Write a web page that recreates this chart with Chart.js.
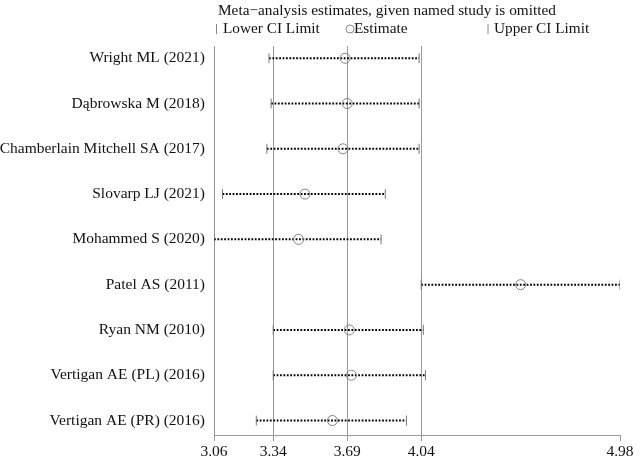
<!DOCTYPE html>
<html>
<head>
<meta charset="utf-8">
<script src="https://cdn.jsdelivr.net/npm/chart.js@4.4.1/dist/chart.umd.min.js"></script>
<style>
    html, body { margin: 0; padding: 0; background: #fff; }
    #wrap { width: 640px; height: 460px; }
</style>
</head>
<body>
<div id="wrap"><canvas id="chartSensibilidade"></canvas></div>
<script>
    'use strict';

    const estudos = [
        'Wright ML (2021)', 'Dąbrowska M (2018)', 'Chamberlain Mitchell SA (2017)',
        'Slovarp LJ (2021)', 'Mohammed S (2020)', 'Patel AS (2011)',
        'Ryan NM (2010)', 'Vertigan AE (PL) (2016)', 'Vertigan AE (PR) (2016)'
    ];
    const estimativa = [3.68, 3.69, 3.67, 3.49, 3.46, 4.51, 3.70, 3.71, 3.62];
    const limiteInferior = [3.32, 3.33, 3.31, 3.10, 3.06, 4.04, 3.34, 3.34, 3.26];
    const limiteSuperior = [4.03, 4.03, 4.03, 3.87, 3.85, 4.98, 4.05, 4.06, 3.97];
    const ticksX = [3.06, 3.34, 3.69, 4.04, 4.98];
    const linhasGrade = [3.34, 3.69, 4.04];

    const fonte = '"Liberation Serif", "Times New Roman", serif';

    // titulo e legenda desenhados a mano, alinhados ao eixo
    const cabecalho = {
        id: 'cabecalho',
        afterDraw(chart) {
            const ctx = chart.ctx;
            const left = chart.chartArea.left;
            ctx.save();
            ctx.fillStyle = '#111';
            ctx.font = '15.3px ' + fonte;
            ctx.textBaseline = 'middle';
            ctx.fillText('Meta\u2212analysis estimates, given named study is omitted', left + 4, 11);

            ctx.strokeStyle = '#888';
            ctx.lineWidth = 1;
            ctx.beginPath();
            ctx.moveTo(left + 2.5, 24); ctx.lineTo(left + 2.5, 34);
            ctx.moveTo(left + 274, 24); ctx.lineTo(left + 274, 34);
            ctx.stroke();
            ctx.fillText('Lower CI Limit', left + 9, 29);
            ctx.fillText('Upper CI Limit', left + 280, 29);

            ctx.beginPath();
            ctx.arc(left + 136, 29, 4, 0, Math.PI * 2);
            ctx.stroke();
            ctx.fillText('Estimate', left + 140, 29);
            ctx.restore();
        }
    };

    const datasets = [{
        type: 'scatter',
        label: 'Estimate',
        order: 0,
        data: estimativa.map((v, i) => ({ x: v, y: i + 1 })),
        pointStyle: 'circle',
        pointRadius: 5,
        pointBackgroundColor: 'rgba(0,0,0,0)',
        pointBorderColor: '#808080',
        pointBorderWidth: 1
    }];

    estudos.forEach((nome, i) => {
        datasets.push({
            type: 'line',
            label: nome,
            order: 1,
            data: [
                { x: limiteInferior[i], y: i + 1 },
                { x: limiteSuperior[i], y: i + 1 }
            ],
            borderColor: '#000',
            borderWidth: 2,
            borderDash: [1.8, 1.6],
            borderCapStyle: 'butt',
            pointStyle: 'line',
            rotation: 90,
            pointRadius: 5,
            pointBorderColor: '#777',
            pointBorderWidth: 1
        });
    });

    new Chart(document.getElementById('chartSensibilidade').getContext('2d'), {
        data: { datasets: datasets },
        plugins: [cabecalho],
        options: {
            responsive: true,
            maintainAspectRatio: false,
            animation: false,
            layout: { padding: { top: 46, right: 20, left: 0, bottom: 0 } },
            plugins: {
                legend: { display: false },
                tooltip: { enabled: false }
            },
            scales: {
                x: {
                    type: 'linear',
                    min: 3.06,
                    max: 4.98,
                    afterBuildTicks: function(scale) {
                        scale.ticks = ticksX.map(v => ({ value: v }));
                    },
                    afterFit: function(scale) {
                        scale.height = 25;
                    },
                    ticks: {
                        autoSkip: false,
                        maxRotation: 0,
                        padding: 2,
                        color: '#111',
                        font: { family: fonte, size: 15.5 },
                        callback: function(value) {
                            return value.toFixed(2);
                        }
                    },
                    grid: {
                        color: function(context) {
                            const v = context.tick && context.tick.value;
                            return linhasGrade.some(g => Math.abs(g - v) < 1e-6) ? '#9a9a9a' : 'rgba(0,0,0,0)';
                        },
                        tickColor: '#9a9a9a',
                        tickLength: 6,
                        lineWidth: 1
                    },
                    border: { display: true, color: '#9a9a9a' }
                },
                y: {
                    type: 'linear',
                    reverse: true,
                    min: 0.73,
                    max: 9.32,
                    afterBuildTicks: function(scale) {
                        scale.ticks = estudos.map((_, i) => ({ value: i + 1 }));
                    },
                    afterFit: function(scale) {
                        scale.width = 214;
                    },
                    ticks: {
                        autoSkip: false,
                        padding: 9,
                        color: '#111',
                        font: { family: fonte, size: 15.5 },
                        callback: function(value) {
                            return estudos[Math.round(value) - 1] || '';
                        }
                    },
                    grid: { display: false, drawTicks: false },
                    border: { display: true, color: '#9a9a9a' }
                }
            }
        }
    });
</script>
</body>
</html>
